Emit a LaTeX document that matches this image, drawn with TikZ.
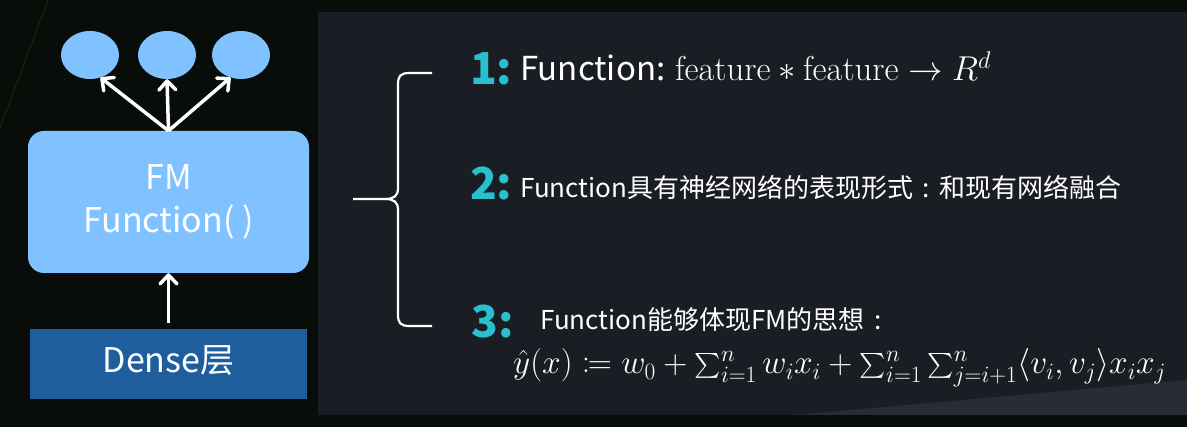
\RequirePackage{fix-cm}
\documentclass[tikz,border=0pt]{standalone}
\usepackage{amsmath}
\usepackage{mathtools}
\usepackage{fontspec}
\newfontfamily\cjk{Noto Sans CJK SC}
\usetikzlibrary{arrows.meta,shapes.geometric}
\definecolor{bgdark}{RGB}{9,13,9}
\definecolor{panel}{RGB}{26,29,35}
\definecolor{panellight}{RGB}{40,44,52}
\definecolor{fmblue}{RGB}{128,193,255}
\definecolor{denseblue}{RGB}{30,94,156}
\definecolor{numteal}{RGB}{40,192,206}

\begin{document}
\begin{tikzpicture}[x=1pt,y=-1pt,
  outnode/.style={ellipse,fill=fmblue,minimum width=58pt,minimum height=48pt,inner sep=0pt},
  fmbox/.style={rounded corners=16pt,fill=fmblue,minimum width=281pt,minimum height=142pt,
    text=white,align=center,font=\cjk\fontsize{34}{43}\selectfont},
  densebox/.style={fill=denseblue,minimum width=277pt,minimum height=70pt,text=white,
    font=\cjk\fontsize{34}{40}\selectfont,text height=25pt,text depth=8pt},
  arr/.style={white,line width=3.5pt,-{Straight Barb[length=9pt,width=17pt,round]}},
  num/.style={anchor=base west,text=numteal,inner sep=0pt,text depth=0pt,
    font=\cjk\bfseries\fontsize{44}{44}\selectfont},
  item/.style={anchor=base west,text=white,inner sep=0pt,text depth=0pt,font=\cjk\fontsize{26}{30}\selectfont}]
  \useasboundingbox (0,0) rectangle (1187,427);
  \fill[bgdark] (0,0) rectangle (1187,427);
  \draw[green!45!black,line width=1.2pt,opacity=0.3] (0,128) -- (48,0);
  \fill[panel] (318,12) rectangle (1187,415);
  \fill[panellight] (794,415) -- (1187,380) -- (1187,415) -- cycle;

  \node[outnode] (e1) at (90,55) {};
  \node[outnode] (e2) at (167,55) {};
  \node[outnode] (e3) at (241,55) {};
  \node[fmbox] (fm) at (168.5,202) {FM\\Function( )};
  \node[densebox] (dense) at (168.5,364) {Dense层};
  \draw[arr] (fm.north) -- (e1.-65);
  \draw[arr] (fm.north) -- (e2.south);
  \draw[arr] (fm.north) -- (e3.-115);
  \draw[arr,shorten <=6pt] (dense.north) -- (fm.south);

  \draw[white,line width=2.2pt] (432,73) -- (410,73) .. controls (400,73) and (398,76) .. (398,85)
    -- (398,188) .. controls (398,196) and (394,199) .. (385,199) -- (353,199);
  \draw[white,line width=2.2pt] (385,199) .. controls (394,199) and (398,202) .. (398,210)
    -- (398,314) .. controls (398,323) and (400,326) .. (410,326) -- (432,326);

  \node[num] (n1) at (470,85) {1:};
  \node[num] (n2) at (470,200) {2:};
  \node[num] (n3) at (471,338) {3:};
  \node[item,font=\cjk\fontsize{33}{36}\selectfont] (t1) at (520,81)
    {Function: \fontsize{34.5}{38}\selectfont$\mathrm{feature} * \mathrm{feature} \rightarrow R^d$};
  \node[item] (t2) at (520,198) {Function具有神经网络的表现形式\hspace{0.37em}:\hspace{0.37em}和现有网络融合};
  \node[item] (t3) at (540,330) {Function能够体现FM的思想\hspace{0.37em}:};
  \node[anchor=base west,text=white,inner sep=0pt,font=\fontsize{33.4}{38}\selectfont] (formula) at (513,374)
    {$\hat{y}(x) \coloneqq w_0 + \sum_{i=1}^{n} w_i x_i + \sum_{i=1}^{n}\sum_{j=i+1}^{n}\langle v_i, v_j\rangle x_i x_j$};
\end{tikzpicture}
\end{document}
